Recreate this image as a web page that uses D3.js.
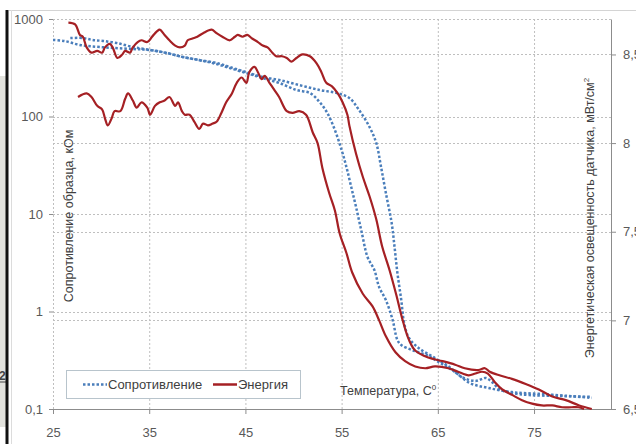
<!DOCTYPE html>
<html>
<head>
<meta charset="utf-8">
<script src="https://cdn.jsdelivr.net/npm/d3@7"></script>
<style>
  body { margin: 0; background: #fff; }
  svg { display: block; font-family: "Liberation Sans", Arial, sans-serif; }
</style>
</head>
<body>
<svg id="chart"></svg>
<script>
// Axis ticks
const tempTicks = [25, 35, 45, 55, 65, 75];
const resistTicks = [0.1, 1, 10, 100, 1000];
const energyTicks = [6.5, 7, 7.5, 8, 8.5];

// Сопротивление (кОм), left log axis: [температура, значение]
const resistHeating = [
  [25.0, 610], [26.2, 595], [27.8, 541], [29.9, 516], [33.3, 492], [35.1, 481],
  [36.8, 448], [38.5, 407], [40.2, 379], [42.0, 354], [43.7, 314], [45.4, 279],
  [46.8, 254], [48.5, 237], [50.6, 210], [52.7, 187], [54.5, 174], [55.8, 155],
  [56.8, 117], [57.9, 78], [58.6, 53.5], [59.1, 30.3], [59.6, 16.4], [60.2, 8.1],
  [60.5, 4.6], [60.8, 2.48], [61.2, 1.31], [61.5, 0.76], [62.0, 0.535], [63.0, 0.423],
  [64.7, 0.333], [66.2, 0.27], [67.5, 0.213], [68.9, 0.194], [70.0, 0.208], [70.6, 0.19],
  [71.4, 0.16], [72.7, 0.146], [74.5, 0.139], [77.6, 0.136], [81.0, 0.133]
];
const resistCooling = [
  [26.8, 638], [28.1, 638], [29.1, 610], [30.2, 595], [31.6, 568], [33.3, 516],
  [35.1, 481], [36.8, 448], [38.5, 407], [40.2, 379], [42.0, 345], [43.7, 307],
  [45.4, 273], [46.8, 248], [48.5, 221], [50.3, 187], [51.7, 174], [52.7, 141],
  [53.5, 109], [54.3, 72.7], [55.0, 45.3], [55.5, 30.3], [56.0, 18.9], [56.5, 11.8],
  [57.1, 6.4], [57.7, 3.6], [58.4, 2.67], [58.9, 1.78], [59.6, 1.31], [60.3, 0.82],
  [60.8, 0.51], [61.2, 0.453], [62.3, 0.403], [63.8, 0.358], [65.1, 0.303], [66.8, 0.239],
  [68.3, 0.185], [70.3, 0.164], [72.7, 0.149], [75.5, 0.143], [78.6, 0.136], [81.0, 0.13]
];

// Энергия (мВт/см²), right axis
const energyHeating = [
  [26.6, 8.68], [27.3, 8.67], [27.8, 8.61], [28.1, 8.60], [28.5, 8.54], [29.0, 8.51],
  [29.6, 8.52], [30.1, 8.51], [30.4, 8.54], [30.9, 8.56], [31.2, 8.54], [31.7, 8.48],
  [32.2, 8.50], [32.5, 8.52], [33.0, 8.51], [33.3, 8.54], [33.8, 8.57], [34.2, 8.58],
  [34.8, 8.57], [35.3, 8.60], [35.8, 8.63], [36.1, 8.64], [36.6, 8.61], [37.1, 8.58],
  [37.7, 8.55], [38.2, 8.54], [38.7, 8.55], [39.0, 8.58], [39.5, 8.59], [40.0, 8.60],
  [40.6, 8.62], [41.5, 8.64], [42.0, 8.62], [42.6, 8.60], [43.4, 8.58], [43.9, 8.60],
  [44.2, 8.61], [44.7, 8.60], [45.2, 8.61], [45.7, 8.59], [46.3, 8.57], [46.8, 8.55],
  [47.3, 8.54], [47.8, 8.51], [48.2, 8.49], [48.8, 8.49], [49.3, 8.48], [49.8, 8.46],
  [50.3, 8.48], [50.9, 8.50], [51.7, 8.49], [52.4, 8.45], [52.9, 8.40], [53.4, 8.34],
  [54.0, 8.32], [54.6, 8.28], [55.1, 8.23], [55.6, 8.16], [55.8, 8.10], [56.5, 7.94],
  [57.2, 7.81], [57.9, 7.70], [58.6, 7.57], [59.2, 7.42], [60.0, 7.28], [60.7, 7.14],
  [61.3, 7.01], [62.0, 6.89], [62.65, 6.83], [64.0, 6.79], [65.5, 6.77], [66.8, 6.75],
  [67.8, 6.73], [69.2, 6.72], [69.9, 6.73], [70.4, 6.71], [71.4, 6.69], [72.7, 6.67],
  [74.2, 6.64], [75.5, 6.61], [76.9, 6.57], [78.3, 6.55], [79.7, 6.52], [81.0, 6.50]
];
const energyCooling = [
  [27.6, 8.26], [28.5, 8.28], [29.0, 8.26], [29.6, 8.21], [30.1, 8.19], [30.4, 8.14],
  [30.7, 8.10], [31.1, 8.14], [31.4, 8.18], [32.0, 8.18], [32.5, 8.25], [32.8, 8.28],
  [33.3, 8.24], [33.7, 8.20], [34.2, 8.23], [34.8, 8.20], [35.1, 8.16], [35.6, 8.21],
  [36.1, 8.23], [36.6, 8.24], [37.1, 8.26], [37.7, 8.21], [38.0, 8.23], [38.4, 8.18],
  [38.7, 8.16], [39.2, 8.16], [39.7, 8.12], [40.2, 8.08], [40.6, 8.11], [41.1, 8.10],
  [41.6, 8.11], [42.0, 8.12], [42.5, 8.17], [43.0, 8.23], [43.6, 8.28], [44.1, 8.34],
  [44.6, 8.37], [45.1, 8.34], [45.4, 8.40], [45.95, 8.43], [46.3, 8.40], [46.7, 8.36],
  [47.0, 8.38], [47.5, 8.34], [48.0, 8.30], [48.5, 8.26], [49.3, 8.18], [49.9, 8.17],
  [50.6, 8.18], [51.3, 8.16], [52.0, 8.06], [52.5, 8.00], [53.0, 7.86], [53.7, 7.72],
  [54.3, 7.62], [54.8, 7.49], [55.5, 7.38], [56.1, 7.27], [57.2, 7.15], [58.2, 7.08],
  [58.9, 7.00], [59.6, 6.91], [60.6, 6.82], [61.6, 6.77], [62.65, 6.74], [63.7, 6.73],
  [64.7, 6.74], [66.1, 6.73], [67.1, 6.71], [68.2, 6.69], [68.9, 6.70], [69.6, 6.71],
  [70.2, 6.70], [70.95, 6.65], [71.7, 6.61], [72.7, 6.58], [73.75, 6.55], [74.8, 6.53],
  [75.8, 6.52], [76.9, 6.52], [77.9, 6.51], [78.9, 6.51], [79.6, 6.51], [80.2, 6.50]
];

const width = 636, height = 444;
const plot = {left: 53, right: 611, top: 19, bottom: 409};
const blue = "#4a7ebb", red = "#a52024";
const gridColor = "#bfbfbf", axisColor = "#8c8c8c", textColor = "#595959";

let svg = d3.select("#chart").attr("width", width).attr("height", height);

// Screenshot frame bits around the chart.
svg.append("rect").attr("x", 0).attr("y", 76).attr("width", 7).attr("height", 351).attr("fill", "#e2e2dd");
svg.append("text").attr("x", -1).attr("y", 380).attr("font-size", 12).attr("font-weight", 700)
  .attr("fill", "#444").text("2");
svg.append("line").attr("x1", 0).attr("x2", 6).attr("y1", 382).attr("y2", 382).attr("stroke", "#444");
svg.append("line").attr("x1", 9).attr("x2", width).attr("y1", 10.5).attr("y2", 10.5).attr("stroke", "#d4d4d4");
svg.append("line").attr("x1", 11.5).attr("x2", 11.5).attr("y1", 10).attr("y2", height).attr("stroke", "#dcdcdc");
svg.append("line").attr("x1", 7).attr("x2", 7).attr("y1", 10).attr("y2", height).attr("stroke", "#111").attr("stroke-width", 3);

let x = d3.scaleLinear().domain([25, 83]).range([plot.left, plot.right]);
let yLeft = d3.scaleLog().domain([0.1, 1000]).range([plot.bottom, plot.top]);
let yRight = d3.scaleLinear().domain([6.5, 8.7]).range([plot.bottom, plot.top]);

let fmt = (d) => String(d).replace(".", ",");

// Gridlines.
let grid = svg.append("g").attr("stroke", gridColor).attr("stroke-dasharray", "2,2").attr("stroke-width", 1);
tempTicks.forEach((t) => {
  grid.append("line").attr("x1", x(t) + 0.5).attr("x2", x(t) + 0.5)
    .attr("y1", plot.top).attr("y2", plot.bottom);
});
resistTicks.filter((d) => d > 0.1).forEach((d) => {
  grid.append("line").attr("x1", plot.left).attr("x2", plot.right)
    .attr("y1", Math.round(yLeft(d)) + 0.5).attr("y2", Math.round(yLeft(d)) + 0.5);
});
energyTicks.filter((d) => d > 6.5).forEach((d) => {
  grid.append("line").attr("x1", plot.left).attr("x2", plot.right)
    .attr("y1", Math.round(yRight(d)) + 0.5).attr("y2", Math.round(yRight(d)) + 0.5);
});

// Axes.
function styleAxis(g) {
  g.selectAll("path.domain").attr("stroke", axisColor);
  g.selectAll(".tick line").attr("stroke", axisColor);
  g.selectAll(".tick text").attr("fill", textColor).attr("font-size", 13)
    .attr("font-family", "Liberation Sans, Arial, sans-serif");
}

svg.append("g").attr("transform", "translate(0," + plot.bottom + ")")
  .call(d3.axisBottom(x).tickValues(tempTicks).tickSize(5).tickSizeOuter(0).tickPadding(14))
  .call(styleAxis);

svg.append("g").attr("transform", "translate(" + plot.left + ",0)")
  .call(d3.axisLeft(yLeft).tickValues(resistTicks).tickFormat(fmt).tickSize(4).tickPadding(6))
  .call((g) => g.select("path.domain").remove())
  .call(styleAxis);

svg.append("g").attr("transform", "translate(" + plot.right + ",0)")
  .call(d3.axisRight(yRight).tickValues(energyTicks).tickFormat(fmt).tickSize(5).tickSizeOuter(0).tickPadding(7))
  .call(styleAxis);

// Series.
let lineLeft = d3.line().x((d) => x(d[0])).y((d) => yLeft(d[1])).curve(d3.curveCatmullRom);
let lineRight = d3.line().x((d) => x(d[0])).y((d) => yRight(d[1])).curve(d3.curveCatmullRom);

[resistHeating, resistCooling].forEach((s) => {
  svg.append("path").datum(s).attr("d", lineLeft)
    .attr("fill", "none").attr("stroke", blue).attr("stroke-width", 2.5)
    .attr("stroke-dasharray", "2.5,2");
});
[energyHeating, energyCooling].forEach((s) => {
  svg.append("path").datum(s).attr("d", lineRight)
    .attr("fill", "none").attr("stroke", red).attr("stroke-width", 2.2)
    .attr("stroke-linejoin", "round");
});

// Axis titles.
svg.append("text").attr("transform", "translate(73,216) rotate(-90)")
  .attr("text-anchor", "middle").attr("font-size", 12.5).attr("fill", "#404040")
  .text("Сопротивление образца, кОм");

let rt = svg.append("text").attr("transform", "translate(594,218) rotate(-90)")
  .attr("text-anchor", "middle").attr("font-size", 12.5).attr("fill", "#404040");
rt.append("tspan").text("Энергетическая освещенность датчика, мВт/см");
rt.append("tspan").attr("font-size", 8).attr("dy", -5).text("2");

let xt = svg.append("text").attr("x", 340).attr("y", 395)
  .attr("font-size", 12.5).attr("fill", "#404040");
xt.append("tspan").text("Температура, С");
xt.append("tspan").attr("font-size", 8).attr("dy", -5).text("0");

// Legend.
let legend = svg.append("g");
legend.append("rect").attr("x", 66.5).attr("y", 370.5).attr("width", 234).attr("height", 28)
  .attr("fill", "#fff").attr("stroke", "#b8c4cc");
legend.append("line").attr("x1", 83).attr("x2", 107).attr("y1", 384.5).attr("y2", 384.5)
  .attr("stroke", blue).attr("stroke-width", 2.5).attr("stroke-dasharray", "2.5,2");
legend.append("text").attr("x", 108).attr("y", 389).attr("font-size", 13).attr("fill", "#404040")
  .text("Сопротивление");
legend.append("line").attr("x1", 213).attr("x2", 237).attr("y1", 384.5).attr("y2", 384.5)
  .attr("stroke", red).attr("stroke-width", 2.5);
legend.append("text").attr("x", 238).attr("y", 389).attr("font-size", 13).attr("fill", "#404040")
  .text("Энергия");
</script>
</body>
</html>
